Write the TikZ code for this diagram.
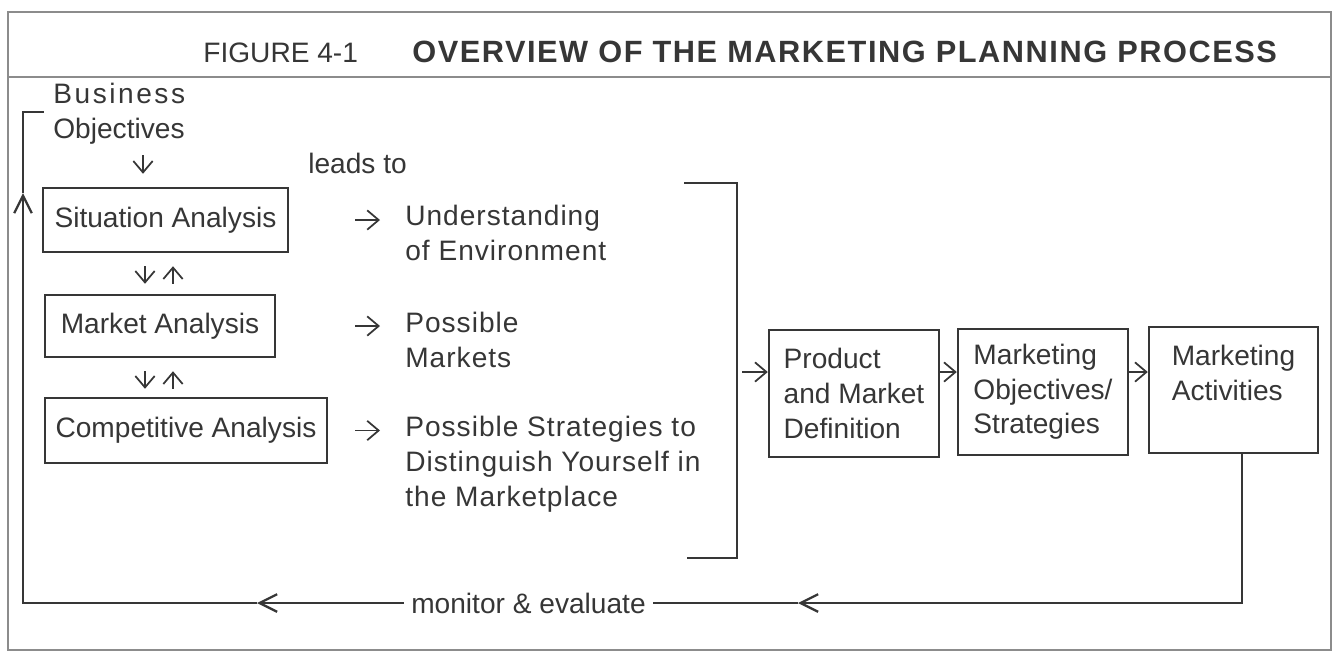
\documentclass[tikz,border=0pt]{standalone}
\usepackage{fontspec}
\setmainfont{Liberation Sans}
\newfontfamily\spacedfont[LetterSpace=3.5]{Liberation Sans}
\newfontfamily\widefont[LetterSpace=9]{Liberation Sans}
\newfontfamily\headfont[LetterSpace=5]{Liberation Sans}
\usetikzlibrary{arrows.meta}

\definecolor{ink}{HTML}{363636}
\definecolor{rule}{HTML}{8C8C8C}

\tikzset{
    box/.style={draw=ink, line width=1.4pt, inner sep=0pt, align=left},
    txt/.style={inner sep=0pt, anchor=base west, align=left},
    tip/.style={draw=ink, line width=1pt, -{Straight Barb[length=6.5pt,width=11pt]}},
    loopline/.style={draw=ink, line width=1.3pt},
    back/.style={loopline, -{Straight Barb[length=10pt,width=10pt]}},
}

\begin{document}
\fontsize{16}{19.7}\selectfont
\begin{tikzpicture}[x=0.02cm, y=-0.02cm, text=ink]
    \useasboundingbox (0,0) rectangle (1336,654);

    % Frame and heading
    \draw[rule, line width=0.9pt] (8,12) rectangle (1331,650);
    \draw[rule, line width=0.9pt] (8,77) -- (1331,77);
    \node[txt] (fig) at (203,62) {FIGURE 4-1};
    \node[txt, font=\headfont\fontsize{17.5}{20}\selectfont\bfseries] (title) at (412,62) {OVERVIEW OF THE MARKETING PLANNING PROCESS};

    % Starting point (base anchor sits on the last line)
    \node[txt] (obj) at (53,138) {{\widefont Business}\\Objectives};
    \node[txt] (lead) at (308,173) {leads to};

    % The three analyses
    \node[box, minimum width=4.9cm, minimum height=1.28cm] (sit) at (165.5,220) {Situation Analysis};
    \node[box, minimum width=4.6cm, minimum height=1.24cm] (mkt) at (160,326) {Market Analysis};
    \node[box, minimum width=5.64cm, minimum height=1.3cm] (comp) at (186,430.5) {Competitive Analysis};

    % What each analysis gives
    \node[txt, font=\spacedfont] (env) at (405,260) {Understanding\\of Environment};
    \node[txt, font=\spacedfont] (mkts) at (405,367) {Possible\\Markets};
    \node[txt, font=\spacedfont] (ways) at (405,506) {Possible Strategies to\\Distinguish Yourself in\\the Marketplace};

    \coordinate (col) at (143,0);
    \coordinate (dn) at (145,0);
    \coordinate (up) at (173,0);
    \coordinate (ar) at (355,0);

    \draw[tip, shorten <=0.22cm, shorten >=0.26cm] (obj.south -| col) -- (sit.north -| col);
    \draw[tip, shorten <=0.26cm, shorten >=0.2cm] (sit.south -| dn) -- (mkt.north -| dn);
    \draw[tip, shorten <=0.2cm, shorten >=0.26cm] (mkt.north -| up) -- (sit.south -| up);
    \draw[tip, shorten <=0.26cm, shorten >=0.16cm] (mkt.south -| dn) -- (comp.north -| dn);
    \draw[tip, shorten <=0.16cm, shorten >=0.26cm] (comp.north -| up) -- (mkt.south -| up);

    \foreach \a/\b in {sit/env, mkt/mkts, comp/ways}
        \draw[tip, shorten >=0.5cm] (\a.east -| ar) -- (\a.east -| \b.west);

    % Bracket gathering the results
    \draw[loopline] (684,183) -- (737,183) -- (737,558) -- (687,558);
    \coordinate (brk) at (737,372);

    % Planning chain
    \node[box, minimum width=3.4cm, minimum height=2.54cm] (prod) at (854,393.5) {Product\\and Market\\Definition};
    \node[box, minimum width=3.4cm, minimum height=2.52cm] (strat) at (1043,392) {Marketing\\Objectives/\\Strategies};
    \node[box, minimum width=3.38cm, minimum height=2.52cm] (act) at (1233.5,390) {Marketing\\Activities\\\mbox{}};

    \draw[tip, shorten <=0.1cm] (brk) -- (brk -| prod.west);
    \draw[tip] (prod.east |- brk) -- (strat.west |- brk);
    \draw[tip] (strat.east |- brk) -- (act.west |- brk);

    % Feedback loop
    \coordinate (lr) at (1242,603);
    \coordinate (a1) at (798,603);
    \coordinate (a2) at (257,603);
    \coordinate (ll) at (23,603);
    \coordinate (a3) at (23,193);
    \coordinate (lt) at (23,112);
    \coordinate (le) at (44,112);
    \node[inner xsep=4pt, inner ysep=0pt] (mon) at (528.5,603) {monitor \& evaluate};

    \draw[back] (act.south -| lr) -- (lr) -- (a1);
    \draw[loopline] (a1) -- (mon.east);
    \draw[back] (mon.west) -- (a2);
    \draw[back] (a2) -- (ll) -- (a3);
    \draw[loopline] (a3) -- (lt) -- (le);
\end{tikzpicture}
\end{document}
